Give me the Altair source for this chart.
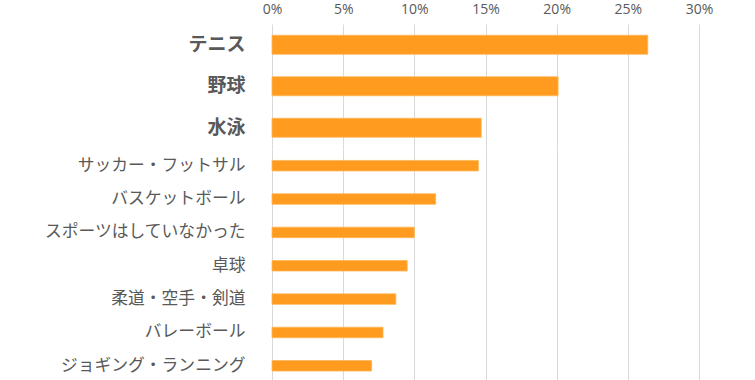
import altair as alt
import pandas as pd

top_sports = ["テニス", "野球", "水泳"]
top_values = [0.264, 0.201, 0.147]
other_sports = ["サッカー・フットサル", "バスケットボール", "スポーツはしていなかった",
                "卓球", "柔道・空手・剣道", "バレーボール", "ジョギング・ランニング"]
other_values = [0.145, 0.115, 0.100, 0.095, 0.087, 0.078, 0.070]
x_ticks = [0, 0.05, 0.10, 0.15, 0.20, 0.25, 0.30]

df_top = pd.DataFrame({"sport": top_sports, "value": top_values})
df_other = pd.DataFrame({"sport": other_sports, "value": other_values})

FONT = "Noto Sans CJK JP"
GRAY = "#595959"
ORANGE = "#FF9B1E"
W = 427

xscale = alt.Scale(domain=[0, 0.30], nice=False)

top = alt.Chart(df_top).mark_bar(size=19, color=ORANGE, stroke="#FFB658", strokeWidth=0.8).encode(
    x=alt.X("value:Q", scale=xscale,
            axis=alt.Axis(orient="top", format=".0%", values=x_ticks, title=None,
                          ticks=False, domain=False, labelPadding=8, labelFontSize=14,
                          labelFont="Open Sans", labelColor=GRAY, gridColor="#D9D9D9",
                          labelFlush=False)),
    y=alt.Y("sport:N", sort=top_sports, scale=alt.Scale(paddingInner=0, paddingOuter=0),
            axis=alt.Axis(title=None, ticks=False, domain=False, labelPadding=27,
                          labelFontSize=19, labelFontWeight="bold", labelFont=FONT,
                          labelColor=GRAY, labelLimit=0))
).properties(width=W, height=124.5)

bottom = alt.Chart(df_other).mark_bar(size=10.5, color=ORANGE, stroke="#FFB658", strokeWidth=0.8).encode(
    x=alt.X("value:Q", scale=xscale,
            axis=alt.Axis(orient="top", format=".0%", values=x_ticks, title=None,
                          ticks=False, domain=False, labels=False, gridColor="#D9D9D9")),
    y=alt.Y("sport:N", sort=other_sports, scale=alt.Scale(paddingInner=0, paddingOuter=0),
            axis=alt.Axis(title=None, ticks=False, domain=False, labelPadding=27,
                          labelFontSize=16.8, labelFont=FONT, labelColor=GRAY, labelLimit=0))
).properties(width=W, height=233.5)

chart = alt.vconcat(top, bottom, spacing=0).properties(
    padding={"left": 43, "top": 2, "right": 5, "bottom": 0}
).configure_view(stroke=None).configure_concat(spacing=0)

chart.save("out.html", embed_options={"renderer": "svg", "actions": False})
